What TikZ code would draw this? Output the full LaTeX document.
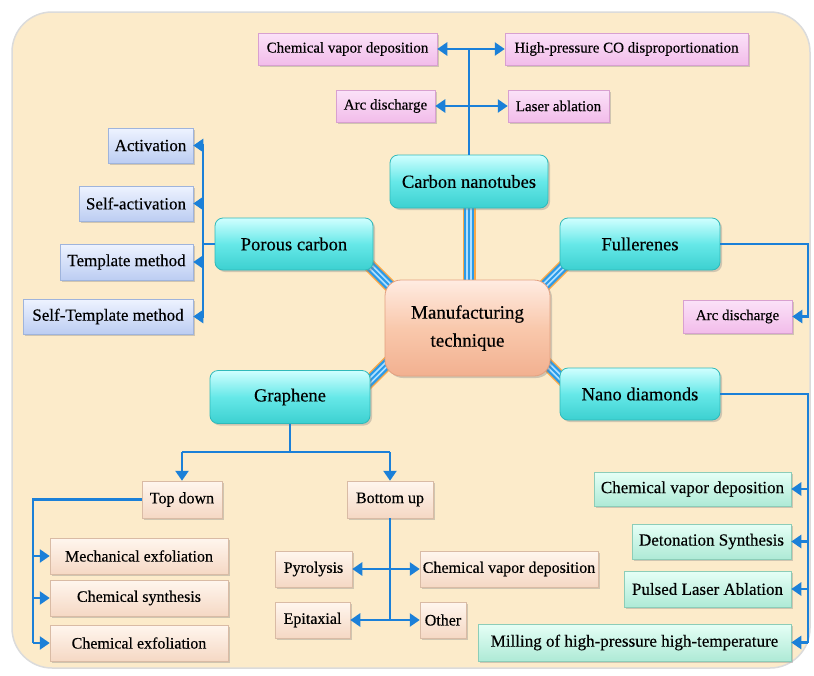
\documentclass[tikz,border=0pt]{standalone}
\usepackage{fontspec}
\setmainfont{Liberation Serif}[FakeBold=0.35]
\usetikzlibrary{arrows.meta,shadows,calc}
\definecolor{bgc}{HTML}{FCEBCA}
\definecolor{lnk}{HTML}{1B80D8}
\definecolor{lorange}{HTML}{F8A848}
\definecolor{lblue}{HTML}{2A9AE8}
\definecolor{lstripe}{HTML}{B0E0FF}
\definecolor{cyTop}{HTML}{D0FFFF}\definecolor{cyMid}{HTML}{66E8E8}\definecolor{cyBot}{HTML}{3CD0D0}\definecolor{cyDraw}{HTML}{30BABA}
\definecolor{mtTop}{HTML}{FFECE2}\definecolor{mtMid}{HTML}{F9C8AC}\definecolor{mtBot}{HTML}{F2B090}\definecolor{mtDraw}{HTML}{E3A080}
\definecolor{pkTop}{HTML}{FBE2F8}\definecolor{pkBot}{HTML}{F2BCEA}\definecolor{pkDraw}{HTML}{D8A0D0}
\definecolor{blTop}{HTML}{EEF3FF}\definecolor{blBot}{HTML}{BCCDF2}\definecolor{blDraw}{HTML}{9FB4DC}
\definecolor{peTop}{HTML}{FFF6EE}\definecolor{peBot}{HTML}{F5D8C4}\definecolor{peDraw}{HTML}{D9BBA5}
\definecolor{gnTop}{HTML}{E6FFF6}\definecolor{gnBot}{HTML}{AEEAD6}\definecolor{gnDraw}{HTML}{8CCDB8}
\pgfdeclarelayer{bgl}
\pgfdeclarelayer{links}
\pgfsetlayers{bgl,links,main}
\begin{document}
\begin{tikzpicture}[x=1pt,y=-1pt,
  box/.style={inner sep=0pt, text=black, drop shadow={opacity=0.35, shadow xshift=2pt, shadow yshift=-2pt}},
  cyanbox/.style={box, rounded corners=8pt, draw=cyDraw, line width=0.8pt, top color=cyTop, bottom color=cyBot, middle color=cyMid, font=\fontsize{18.5}{22}\selectfont},
  mtbox/.style={box, rounded corners=16pt, draw=mtDraw, line width=0.8pt, top color=mtTop, bottom color=mtBot, middle color=mtMid, align=center, font=\fontsize{19}{28}\selectfont},
  pinkbox/.style={box, draw=pkDraw, line width=0.5pt, top color=pkTop, bottom color=pkBot, font=\fontsize{15}{18}\selectfont},
  bluebox/.style={box, draw=blDraw, line width=0.5pt, top color=blTop, bottom color=blBot, font=\fontsize{17}{20}\selectfont},
  peachbox/.style={box, draw=peDraw, line width=0.5pt, top color=peTop, bottom color=peBot, font=\fontsize{16}{19}\selectfont},
  greenbox/.style={box, draw=gnDraw, line width=0.5pt, top color=gnTop, bottom color=gnBot, font=\fontsize{17}{20}\selectfont},
  ln/.style={draw=lnk, line width=2.8pt},
  ar/.style={ln, -{Triangle[width=13pt,length=10pt]}},
  big/.style={draw=lorange, line width=13pt,
    postaction={draw=lblue, line width=10pt},
    postaction={draw=lstripe, line width=5.5pt},
    postaction={draw=lblue, line width=1.8pt}}
]
\useasboundingbox (0,0) rectangle (814,675);
\begin{pgfonlayer}{bgl}
  \fill[white] (0,0) rectangle (814,675);
  \draw[draw=black!14, line width=1.5pt, fill=bgc, rounded corners=40pt] (12,12) rectangle (810,668);
\end{pgfonlayer}

% top (carbon nanotubes)
\node[pinkbox, minimum width=179pt, minimum height=32pt] (cvdA) at (347.5,49) {Chemical vapor deposition};
\node[pinkbox, minimum width=243pt, minimum height=32pt] (hpco) at (626.5,49) {High-pressure CO disproportionation};
\node[pinkbox, minimum width=99pt, minimum height=32pt] (arcA) at (385.5,106) {Arc discharge};
\node[pinkbox, minimum width=101pt, minimum height=32pt] (laser) at (558.5,106) {Laser ablation};
\node[cyanbox, minimum width=158pt, minimum height=53pt] (cnt) at (469,181.5) {Carbon nanotubes};

% porous carbon
\node[cyanbox, minimum width=158pt, minimum height=52pt] (porous) at (294,244) {Porous carbon};
\node[bluebox, minimum width=85pt, minimum height=35pt] (act) at (150.5,145.5) {Activation};
\node[bluebox, minimum width=114pt, minimum height=35pt] (sact) at (136,203.5) {Self-activation};
\node[bluebox, minimum width=133pt, minimum height=36pt] (tmpl) at (126.5,262) {Template method};
\node[bluebox, minimum width=170pt, minimum height=35pt] (stm) at (108,316.5) {Self-Template method};

% fullerenes
\node[cyanbox, minimum width=160pt, minimum height=52pt] (ful) at (640,244) {Fullerenes};
\node[pinkbox, minimum width=109pt, minimum height=33pt] (arcB) at (737.5,316.5) {Arc discharge};

% centre
\node[mtbox, minimum width=165pt, minimum height=96pt] (mt) at (467.5,328) {Manufacturing\\technique};

% graphene
\node[cyanbox, minimum width=160pt, minimum height=53pt] (gr) at (290,397) {Graphene};
\node[peachbox, minimum width=80pt, minimum height=37pt] (td) at (182,499.5) {Top down};
\node[peachbox, minimum width=86pt, minimum height=37pt] (bu) at (390,499.5) {Bottom up};
\node[peachbox, minimum width=178pt, minimum height=36pt] (mech) at (139,556) {Mechanical exfoliation};
\node[peachbox, minimum width=178pt, minimum height=36pt] (csyn) at (139,598) {Chemical synthesis};
\node[peachbox, minimum width=178pt, minimum height=36pt] (cexf) at (139,643) {Chemical exfoliation};
\node[peachbox, minimum width=77pt, minimum height=36pt] (pyro) at (313.5,569) {Pyrolysis};
\node[peachbox, minimum width=75pt, minimum height=36pt] (epi) at (312.5,620) {Epitaxial};
\node[peachbox, minimum width=178pt, minimum height=36pt] (cvdB) at (509,569) {Chemical vapor deposition};
\node[peachbox, minimum width=46pt, minimum height=36pt] (other) at (443,620) {Other};

% nano diamonds
\node[cyanbox, minimum width=160pt, minimum height=52pt] (nd) at (640,394) {Nano diamonds};
\node[greenbox, minimum width=197pt, minimum height=34pt] (cvdC) at (692.5,489) {Chemical vapor deposition};
\node[greenbox, minimum width=159pt, minimum height=35pt] (deto) at (711.5,541.5) {Detonation Synthesis};
\node[greenbox, minimum width=167pt, minimum height=36pt] (pla) at (707.5,589) {Pulsed Laser Ablation};
\node[greenbox, minimum width=313pt, minimum height=37pt] (mill) at (634.5,642.5) {Milling of high-pressure high-temperature};

% thick links from the centre
\begin{pgfonlayer}{links}
  \draw[big] (cnt.center) -- (cnt.center |- mt.center);
  \draw[big] ($(porous.south east)!.5!(mt.north west)$) +(-24,-24) -- +(24,24);
  \draw[big] ($(ful.south west)!.5!(mt.north east)$) +(24,-24) -- +(-24,24);
  \draw[big] ($(gr.north east)!.5!(mt.south west)$) +(-24,24) -- +(24,-24);
  \draw[big] ($(nd.north west)!.5!(mt.south east)$) +(-24,-24) -- +(24,24);
\end{pgfonlayer}

% carbon nanotube branches
\draw[ln] (cnt.north) -- (cnt.north |- cvdA.east);
\draw[ar] (cnt.north |- cvdA.east) -- (cvdA.east);
\draw[ar] (cnt.north |- hpco.west) -- (hpco.west);
\draw[ar] (cnt.north |- arcA.east) -- (arcA.east);
\draw[ar] (cnt.north |- laser.west) -- (laser.west);

% porous carbon branches
\coordinate (pv) at (203,0);
\draw[ln] (porous.west) -- (porous.west -| pv);
\draw[ln] (act.east -| pv) -- (stm.east -| pv);
\draw[ar] (act.east -| pv) -- (act.east);
\draw[ar] (sact.east -| pv) -- (sact.east);
\draw[ar] (tmpl.east -| pv) -- (tmpl.east);
\draw[ar] (stm.east -| pv) -- (stm.east);

% fullerenes and nano diamonds
\coordinate (rv) at (808,0);
\draw[ar] (ful.east) -- (ful.east -| rv) |- (arcB.east);
\draw[ln] (nd.east) -- (nd.east -| rv) -- (mill.east -| rv);
\draw[ar] (cvdC.east -| rv) -- (cvdC.east);
\draw[ar] (deto.east -| rv) -- (deto.east);
\draw[ar] (pla.east -| rv) -- (pla.east);
\draw[ar] (mill.east -| rv) -- (mill.east);

% graphene
\coordinate (gy) at (0,452);
\draw[ln] (gr.south) -- (gr.south |- gy);
\draw[ln] (td.north |- gy) -- (bu.north |- gy);
\draw[ar] (td.north |- gy) -- (td.north);
\draw[ar] (bu.north |- gy) -- (bu.north);

\coordinate (tv) at (33,0);
\draw[ln] (td.west) -- (td.west -| tv) -- (cexf.west -| tv);
\draw[ar] (mech.west -| tv) -- (mech.west);
\draw[ar] (csyn.west -| tv) -- (csyn.west);
\draw[ar] (cexf.west -| tv) -- (cexf.west);

\draw[ln] (bu.south) -- (bu.south |- epi.east);
\draw[ar] (bu.south |- pyro.east) -- (pyro.east);
\draw[ar] (bu.south |- cvdB.west) -- (cvdB.west);
\draw[ar] (bu.south |- epi.east) -- (epi.east);
\draw[ar] (bu.south |- other.west) -- (other.west);
\end{tikzpicture}
\end{document}
